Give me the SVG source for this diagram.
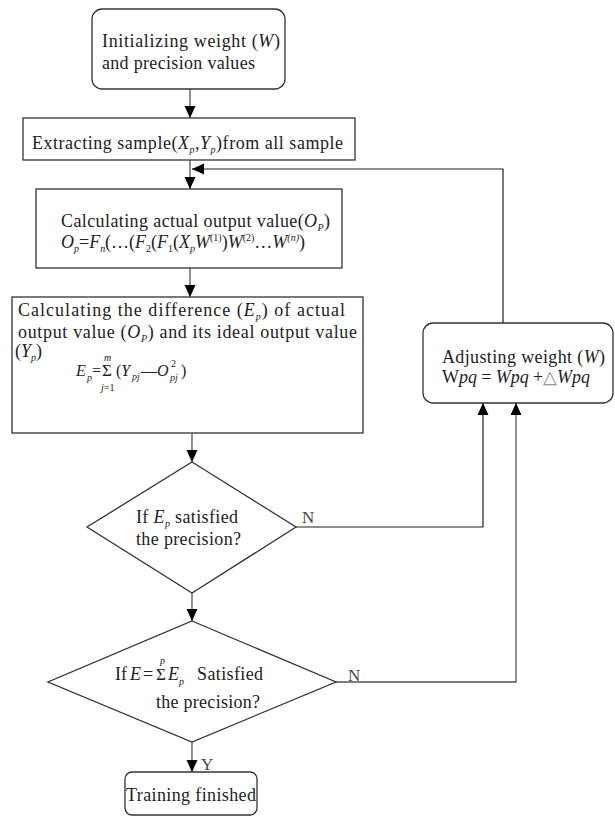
<svg xmlns="http://www.w3.org/2000/svg" width="615" height="817" viewBox="0 0 615 817">
<style>
.box{fill:#fff;stroke:#333;stroke-width:1.3}
.t{font-family:"Liberation Serif","Times New Roman",serif;font-size:18px;fill:#222}
.i{font-style:italic}
.s{font-size:10px}
.f{font-size:16px}
.sg{font-size:17px}
.c{fill:none;stroke:#555;stroke-width:1.3}
.ck{fill:none;stroke:#222;stroke-width:1.2}
.lbl{font-family:"Liberation Serif","Times New Roman",serif;font-size:17px;fill:#444}
</style>
<defs>
<marker id="ah" viewBox="0 0 12 12" refX="12" refY="6" markerWidth="12" markerHeight="12" markerUnits="userSpaceOnUse" orient="auto">
<path d="M0,0.5 L12,6 L0,11.5 Z" fill="#000"/>
</marker>
</defs>
<g id="connectors">
<line class="c" x1="190" y1="89" x2="190" y2="118" marker-end="url(#ah)"/>
<line class="c" x1="190" y1="160" x2="190" y2="189" marker-end="url(#ah)"/>
<polyline class="ck" points="503,323 503,169 192,169" marker-end="url(#ah)"/>
<line class="c" x1="190" y1="268" x2="190" y2="297" marker-end="url(#ah)"/>
<line class="c" x1="192" y1="433" x2="192" y2="462" marker-end="url(#ah)"/>
<line class="c" x1="192" y1="593" x2="192" y2="621" marker-end="url(#ah)"/>
<line class="c" x1="192" y1="742" x2="192" y2="772" marker-end="url(#ah)"/>
<polyline class="ck" points="296,527 483,527 483,403" marker-end="url(#ah)"/>
<polyline class="c" points="336,682 516,682 516,403" marker-end="url(#ah)"/>
<text class="lbl" x="302" y="523">N</text>
<text class="lbl" x="348" y="681">N</text>
<text class="lbl" x="201" y="770" fill="#222">Y</text>
</g>
<g id="init">
<rect class="box" x="92" y="9" width="193" height="80" rx="10"/>
<text class="t" x="102" y="47" textLength="178">Initializing weight (<tspan class="i">W</tspan>)</text>
<text class="t" x="102" y="69" textLength="153">and precision values</text>
</g>
<g id="extract">
<rect class="box" x="23" y="118" width="332" height="42"/>
<text class="t" x="32" y="149" textLength="311">Extracting sample(<tspan class="i">X</tspan><tspan class="s i" dy="4">p</tspan><tspan dy="-4">,</tspan><tspan class="i">Y</tspan><tspan class="s i" dy="4">p</tspan><tspan dy="-4">)from all sample</tspan></text>
</g>
<g id="calc-output">
<rect class="box" x="36" y="189" width="306" height="79"/>
<text class="t" x="61" y="227" textLength="269">Calculating actual output value(<tspan class="i">O</tspan><tspan class="s i" dy="4">P</tspan><tspan dy="-4">)</tspan></text>
<text class="t" x="61" y="248" textLength="244"><tspan class="i">O</tspan><tspan class="s i" dy="4">p</tspan><tspan dy="-4">=</tspan><tspan class="i">F</tspan><tspan class="s i" dy="4">n</tspan><tspan dy="-4">(…(</tspan><tspan class="i">F</tspan><tspan class="s" dy="4">2</tspan><tspan dy="-4">(</tspan><tspan class="i">F</tspan><tspan class="s" dy="4">1</tspan><tspan dy="-4">(</tspan><tspan class="i">X</tspan><tspan class="s i" dy="4">p</tspan><tspan class="i" dy="-4">W</tspan><tspan class="s" dy="-7">(1)</tspan><tspan dy="7">)</tspan><tspan class="i">W</tspan><tspan class="s" dy="-7">(2)</tspan><tspan dy="7">…</tspan><tspan class="i">W</tspan><tspan class="s i" dy="-7">(n)</tspan><tspan dy="7">)</tspan></text>
</g>
<g id="calc-diff">
<rect class="box" x="12" y="297" width="351" height="136"/>
<text class="t" x="18" y="316" textLength="327">Calculating the difference (<tspan class="i">E</tspan><tspan class="s i" dy="4">p</tspan><tspan dy="-4">) of  actual</tspan></text>
<text class="t" x="18" y="338" textLength="339">output value (<tspan class="i">O</tspan><tspan class="s i" dy="4">P</tspan><tspan dy="-4">) and its ideal output value</tspan></text>
<text class="t" x="15" y="357">(<tspan class="i">Y</tspan><tspan class="s i" dy="4">p</tspan><tspan dy="-4">)</tspan></text>
<text class="t f i" x="76" y="376">E</text>
<text class="t s i" x="87" y="381">p</text>
<text class="t f" x="92" y="376">=</text>
<text class="t sg" x="102" y="376">Σ</text>
<text class="t s i" x="104" y="361">m</text>
<text class="t s" x="101" y="391"><tspan class="i">j</tspan>=1</text>
<text class="t f" x="116" y="376">(<tspan class="i">Y</tspan></text>
<text class="t s i" x="132" y="380">pj</text>
<text class="t f" x="141" y="376">—<tspan class="i">O</tspan></text>
<text class="t s" x="171" y="367">2</text>
<text class="t s i" x="170" y="381">pj</text>
<text class="t f" x="181" y="376">)</text>
</g>
<g id="adjust">
<rect class="box" x="423" y="323" width="190" height="80" rx="10"/>
<text class="t" x="442" y="363" textLength="163">Adjusting weight (<tspan class="i">W</tspan>)</text>
<text class="t" x="442" y="383" textLength="148">W<tspan class="i">pq</tspan> = <tspan class="i">Wpq</tspan> +<tspan fill="#888">△</tspan><tspan class="i">Wpq</tspan></text>
</g>
<g id="check-ep">
<polygon class="box" points="192,462 296,527 192,593 87,527"/>
<text class="t" x="136" y="523" textLength="102">If <tspan class="i">E</tspan><tspan class="s i" dy="4">p</tspan><tspan dy="-4"> satisfied</tspan></text>
<text class="t" x="136" y="545" textLength="105">the precision?</text>
</g>
<g id="check-e">
<polygon class="box" points="192,621 336,682 192,742 48,682"/>
<text class="t" x="115" y="680">If</text>
<text class="t i" x="130" y="680">E</text>
<text class="t" x="143" y="680">=</text>
<text class="t sg" x="156" y="680">Σ</text>
<text class="t s i" x="160" y="664">p</text>
<text class="t i" x="168" y="680">E</text>
<text class="t s i" x="179" y="685">p</text>
<text class="t" x="197" y="680" textLength="66">Satisfied</text>
<text class="t" x="156" y="708" textLength="104">the precision?</text>
</g>
<g id="finished">
<rect class="box" x="125" y="772" width="132" height="43" rx="7"/>
<text class="t" x="126" y="801" textLength="130">Training finished</text>
</g>
</svg>
